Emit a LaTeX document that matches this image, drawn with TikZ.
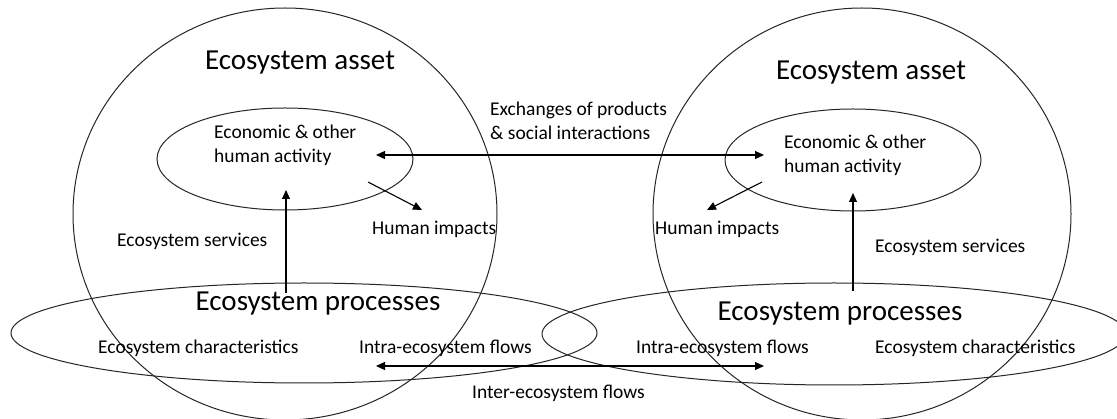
\documentclass[tikz,border=0pt]{standalone}
\usepackage{fontspec}
\setmainfont{Carlito}
\usetikzlibrary{arrows.meta,shapes.geometric}
\begin{document}
\begin{tikzpicture}[x=1pt,y=-1pt,
  ring/.style={draw=black!85, line width=1pt, ellipse, inner sep=0pt},
  small/.style={font=\fontsize{19.5}{24}\selectfont, inner sep=0pt, text=black},
  big/.style={font=\fontsize{29}{34}\selectfont, inner sep=0pt, text=black},
  arr/.style={draw=black, line width=1.1pt, -{Triangle[length=9pt,width=8pt]}},
  darr/.style={draw=black, line width=1.1pt, {Triangle[length=9pt,width=8pt]}-{Triangle[length=9pt,width=8pt]}}]
\useasboundingbox (0,0) rectangle (1117,419);
\fill[white] (0,0) rectangle (1117,419);
% shapes
\node[ring, minimum width=424pt, minimum height=412pt] (assetL) at (285,214) {};
\node[ring, minimum width=418pt, minimum height=412pt] (assetR) at (862,214) {};
\node[ring, minimum width=256pt, minimum height=102pt] (econL) at (285,159) {};
\node[ring, minimum width=256pt, minimum height=102pt] (econR) at (853,160) {};
\node[ring, minimum width=586pt, minimum height=100pt] (procL) at (304,333) {};
\node[ring, minimum width=584pt, minimum height=102pt] (procR) at (834,334) {};
% texts
\node[big] (titleL) at (300,63) {Ecosystem asset};
\node[big] (titleR) at (871,73) {Ecosystem asset};
\node[big] (procTL) at (318,304) {Ecosystem processes};
\node[big] (procTR) at (840,314) {Ecosystem processes};
\node[small, align=left, anchor=west] (econTL) at (214,145) {Economic \& other\\human activity};
\node[small, align=left, anchor=west] (econTR) at (784,155) {Economic \& other\\human activity};
\node[small, align=left, anchor=west] (exch) at (490,121) {Exchanges of products\\\& social interactions};
\node[small, anchor=west] (impL) at (372,229) {Human impacts};
\node[small, anchor=west] (impR) at (655,229) {Human impacts};
\node[small, anchor=west] (svcL) at (117,241) {Ecosystem services};
\node[small, anchor=west] (svcR) at (875,247) {Ecosystem services};
\node[small, anchor=west] (charL) at (98,348) {Ecosystem characteristics};
\node[small, anchor=west] (intraL) at (359,348) {Intra-ecosystem flows};
\node[small, anchor=west] (intraR) at (636,348) {Intra-ecosystem flows};
\node[small, anchor=west] (charR) at (875,348) {Ecosystem characteristics};
\node[small, anchor=west] (inter) at (472,393) {Inter-ecosystem flows};
% connector end points
\coordinate (svcLa) at (286,293);
\coordinate (svcLb) at (286,190);
\coordinate (svcRa) at (853,291);
\coordinate (svcRb) at (853,193);
\coordinate (impLa) at (368,182);
\coordinate (impLb) at (422,210);
\coordinate (impRa) at (762,182);
\coordinate (impRb) at (707,210);
\coordinate (exA) at (376,155);
\coordinate (exB) at (764,155);
\coordinate (inA) at (376,366);
\coordinate (inB) at (764,366);
% connectors
\draw[arr] (svcLa) -- (svcLb);
\draw[arr] (svcRa) -- (svcRb);
\draw[arr] (impLa) -- (impLb);
\draw[arr] (impRa) -- (impRb);
\draw[darr] (exA) -- (exB);
\draw[darr] (inA) -- (inB);
\end{tikzpicture}
\end{document}
